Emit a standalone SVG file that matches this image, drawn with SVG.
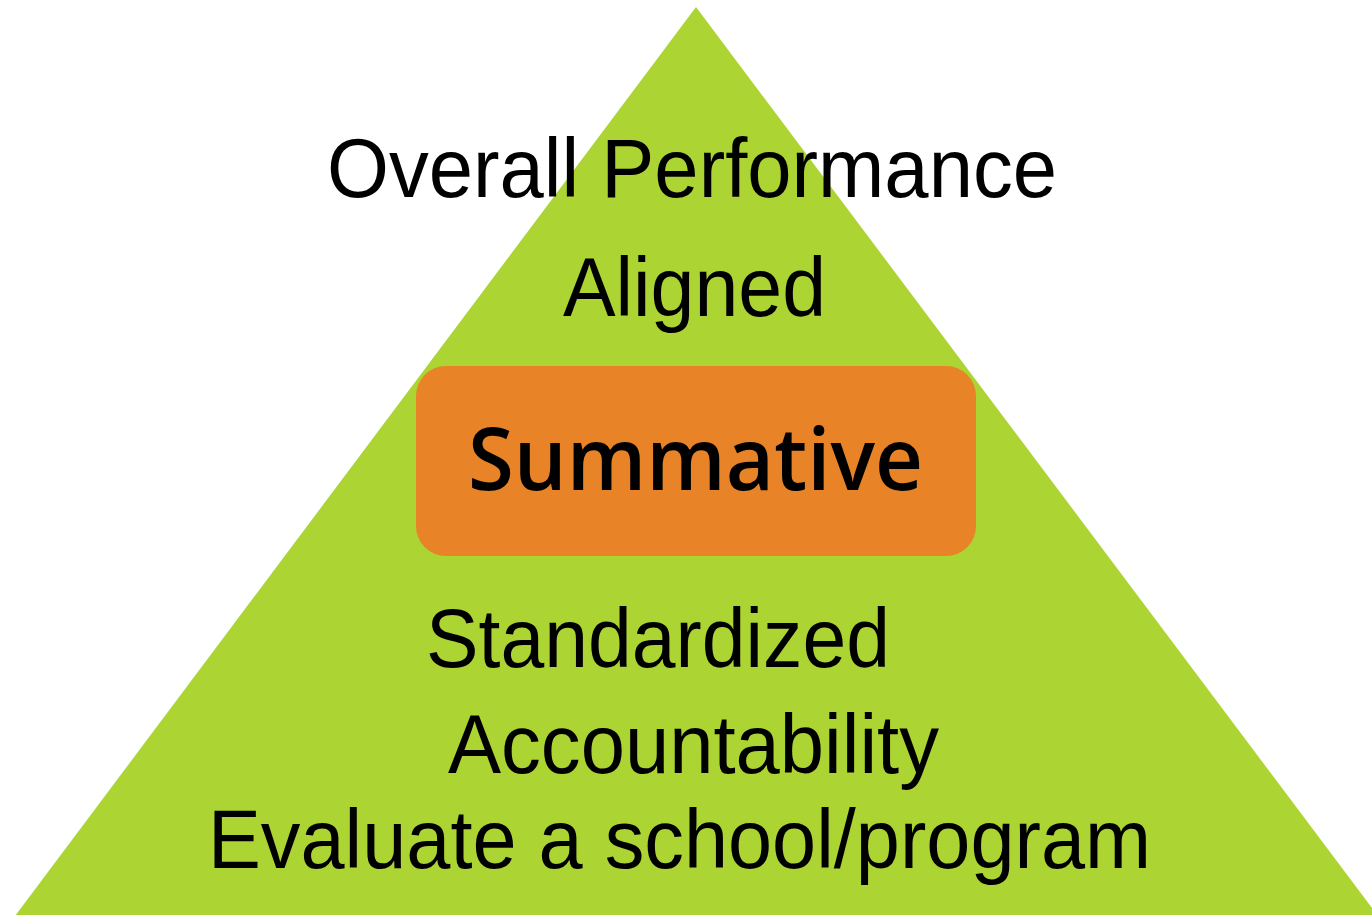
<svg xmlns="http://www.w3.org/2000/svg" width="1372" height="915" viewBox="0 0 1372 915">
<style>
.lbl{font-family:"Liberation Sans",Arial,sans-serif;font-size:83px;fill:#000}
.sum{font-family:"Open Sans","DejaVu Sans",sans-serif;font-weight:600;font-size:87px;fill:#000}
</style>
<rect width="1372" height="915" fill="#fff"/>
<g id="pyramid">
<polygon points="696,7 15,916 1378,916" fill="#acd432"/>
</g>
<g id="summative">
<rect x="416" y="366" width="560" height="190" rx="30" ry="30" fill="#e88327"/>
<text class="sum" x="468" y="490" textLength="455" lengthAdjust="spacingAndGlyphs">Summative</text>
</g>
<g id="labels">
<text id="t1" class="lbl" x="327" y="197" textLength="730" lengthAdjust="spacingAndGlyphs">Overall Performance</text>
<text id="t2" class="lbl" x="563" y="316" textLength="263" lengthAdjust="spacingAndGlyphs">Aligned</text>
<text id="t3" class="lbl" x="426" y="667" textLength="464" lengthAdjust="spacingAndGlyphs">Standardized</text>
<text id="t4" class="lbl" x="448" y="773" textLength="491" lengthAdjust="spacingAndGlyphs">Accountability</text>
<text id="t5" class="lbl" x="208" y="868" textLength="943" lengthAdjust="spacingAndGlyphs">Evaluate a school/program</text>
</g>
<g id="connectors"/>
</svg>
